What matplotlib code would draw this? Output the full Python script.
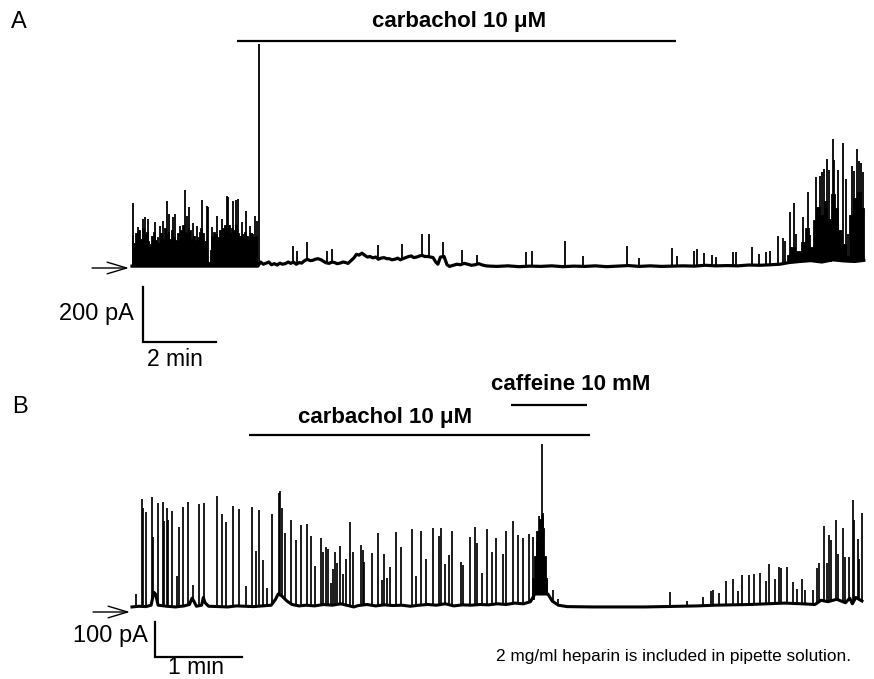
import numpy as np
import matplotlib
matplotlib.use("Agg")
import matplotlib.pyplot as plt

plt.rcParams['font.family'] = ['Liberation Sans', 'DejaVu Sans']

# ---------------- Panel A data (time in min, current in pA) ----------------
A_band_t = [0.0, 0.05, 0.1, 0.15, 0.2, 0.25, 0.3, 0.35, 0.4, 0.45, 0.5, 0.55, 0.6, 0.65, 0.7,
            0.75, 0.8, 0.85, 0.9, 0.95, 1.0, 1.05, 1.1, 1.15, 1.2, 1.25, 1.3, 1.35, 1.4, 1.45,
            1.5, 1.55, 1.6, 1.65, 1.7, 1.75, 1.8, 1.85, 1.9, 1.95, 2.0, 2.05, 2.1, 2.15, 2.2,
            2.25, 2.3, 2.35, 2.4, 2.45, 2.5, 2.55, 2.6, 2.65, 2.7, 2.75, 2.8, 2.85, 2.9, 2.95,
            3.0, 3.05, 3.1, 3.15, 3.2, 3.25, 3.3, 3.35, 3.42]
A_band_v = [110, 85, 120, 95, 130, 100, 140, 115, 125, 90, 80, 110, 125, 95, 105,
            85, 120, 100, 140, 115, 125, 100, 130, 105, 95, 120, 110, 130, 150, 125,
            120, 140, 130, 100, 110, 95, 105, 125, 140, 120, 90, 20, 15, 60, 110,
            125, 115, 105, 130, 120, 140, 150, 135, 150, 125, 140, 130, 150, 120, 110,
            95, 115, 125, 110, 100, 120, 115, 105, 110]

A_spike_t = [0.03, 0.16, 0.30, 0.36, 0.44, 0.63, 0.77, 0.85, 0.96, 1.01, 1.12, 1.18, 1.32, 1.45,
             1.51, 1.56, 1.67, 1.78, 1.92, 2.05, 2.08, 2.19, 2.33, 2.47, 2.60, 2.63, 2.77, 2.85,
             2.90, 3.01, 3.12, 3.23, 3.37, 3.42, 3.48,
             4.41, 4.52, 4.79, 5.34, 5.48, 6.74, 7.40, 7.95, 8.14, 8.52, 9.04, 9.45, 10.79,
             10.96, 11.86, 12.36, 13.56, 13.89, 14.79, 14.93, 15.40, 15.48, 15.67, 15.89, 16.00,
             16.47, 16.55, 16.99, 17.18, 17.37, 17.48, 17.70, 17.84, 17.89, 18.03, 18.14, 18.19,
             18.38, 18.52, 18.58, 18.74, 18.85, 18.90, 18.96, 19.04, 19.10, 19.21, 19.23, 19.34,
             19.48, 19.56, 19.62, 19.73, 19.78, 19.86, 19.92, 19.97, 20.03]
A_spike_v = [231, 144, 173, 180, 173, 162, 147, 165, 238, 191, 180, 191, 147, 278,
             184, 216, 155, 147, 242, 220, 216, 144, 184, 173, 256, 253, 235, 242,
             245, 162, 202, 147, 184, 165, 802,
             60, 45, 64, 45, 49, 49, 56, 78, 82, 53, 53, 35, 53,
             56, 93, 38, 71, 31, 67, 35, 56, 60, 45, 38, 31,
             49, 49, 67, 42, 49, 49, 104, 93, 82, 184, 213, 100,
             162, 249, 93, 307, 311, 329, 336, 369, 329, 438, 365, 329,
             427, 300, 100, 347, 329, 409, 362, 355, 322]

A_base_t = [0.0, 3.45, 3.52, 3.60, 3.68, 3.75, 3.82, 3.90, 3.98, 4.05, 4.12, 4.20, 4.28, 4.35,
            4.42, 4.50, 4.58, 4.65, 4.72, 4.80, 4.88, 4.95, 5.02, 5.10, 5.18, 5.25, 5.32, 5.40,
            5.48, 5.55, 5.62, 5.70, 5.78, 5.85, 5.92, 6.00, 6.08, 6.15, 6.22, 6.30, 6.38, 6.45,
            6.52, 6.60, 6.68, 6.75, 6.82, 6.90, 6.98, 7.05, 7.12, 7.20, 7.28, 7.35, 7.42, 7.50,
            7.58, 7.65, 7.72, 7.80, 7.88, 7.95, 8.02, 8.10, 8.18, 8.25, 8.32, 8.38, 8.45, 8.55,
            8.63, 8.70, 8.80, 8.90, 9.00, 9.10, 9.20, 9.30, 9.40, 9.50, 9.60, 9.70, 9.80, 10.0,
            10.3, 10.6, 10.9, 11.2, 11.5, 11.8, 12.1, 12.4, 12.7, 13.0, 13.3, 13.6, 13.9, 14.2,
            14.5, 14.8, 15.1, 15.4, 15.7, 16.0, 16.3, 16.6, 16.9, 17.2, 17.5, 17.75, 18.0, 18.3,
            18.6, 18.9, 19.2, 19.5, 19.8, 20.05]
A_base_v = [5, 5, 20, 12, 16, 20, 10, 14, 9, 16, 12, 14, 20, 15,
            20, 12, 18, 16, 24, 30, 25, 26, 30, 32, 28, 22, 17, 15,
            20, 18, 14, 16, 20, 18, 15, 25, 35, 48, 45, 52, 44, 38,
            40, 35, 38, 30, 34, 36, 32, 32, 28, 30, 34, 28, 32, 36,
            40, 42, 36, 38, 42, 44, 40, 40, 38, 36, 20, 12, 38, 40,
            10, 4, 8, 12, 10, 15, 12, 8, 10, 14, 9, 6, 5, 4,
            6, 3, 5, 4, 6, 3, 5, 4, 6, 3, 5, 7, 4, 6,
            4, 5, 6, 5, 8, 6, 7, 6, 9, 8, 10, 12, 18, 22,
            25, 20, 28, 24, 22, 26]

A_burst_t = [17.95, 18.1, 18.25, 18.4, 18.5, 18.6, 18.7, 18.8, 18.9, 19.0, 19.1, 19.2, 19.3,
             19.4, 19.5, 19.6, 19.7, 19.8, 19.9, 20.05]
A_burst_v = [30, 55, 40, 70, 120, 50, 150, 200, 170, 220, 150, 240, 190, 110, 60, 20, 170, 230, 250, 190]

# ---------------- Panel B data ----------------
B_spike_t = [0.05, 0.11, 0.13, 0.16, 0.23, 0.24, 0.30, 0.36, 0.37, 0.40, 0.41, 0.46, 0.52, 0.54,
             0.59, 0.64, 0.70, 0.77, 0.83, 0.98, 1.03, 1.08, 1.16, 1.23, 1.31, 1.38, 1.43, 1.46,
             1.51, 1.55, 1.61, 1.69, 1.70, 1.72, 1.76, 1.83, 1.89, 1.94, 2.01, 2.06, 2.10, 2.17,
             2.20, 2.23, 2.25, 2.29, 2.31, 2.33, 2.36, 2.39, 2.43, 2.46, 2.51, 2.54, 2.63, 2.66,
             2.67, 2.76, 2.83, 2.87, 2.90, 2.93, 2.97, 3.03, 3.09, 3.22, 3.26, 3.32, 3.38, 3.46,
             3.53, 3.55, 3.60, 3.64, 3.68, 3.78, 3.80, 3.89, 3.94, 3.97, 4.02, 4.08, 4.14, 4.18,
             4.26, 4.30, 4.38, 4.44, 4.49, 4.56, 4.61, 4.66, 4.68, 4.71, 4.72, 4.77, 4.84, 4.90,
             6.18, 6.38, 6.56, 6.66, 6.68, 6.75, 6.83, 6.91, 6.97, 7.01, 7.09, 7.15, 7.22, 7.29,
             7.32, 7.39, 7.44, 7.46, 7.53, 7.60, 7.64, 7.70, 7.74, 7.83, 7.87, 7.90, 7.95, 7.99,
             8.01, 8.03, 8.09, 8.11, 8.17, 8.20, 8.24, 8.29, 8.30, 8.34, 8.36, 8.39]
B_spike_v = [37, 306, 280, 271, 297, 171, 291, 297, 243, 280, 246, 274, 89, 226,
             283, 294, 43, 291, 277, 317, 266, 243, 286, 277, 57, 283, 157, 274,
             131, 51, 257, 291, 297, 251, 189, 240, 186, 231, 231, 200, 114, 191,
             149, 166, 160, 63, 103, 151, 117, 166, 86, 131, 240, 157, 171, 157,
             123, 149, 206, 71, 146, 77, 109, 211, 166, 220, 86, 211, 131, 220,
             197, 220, 114, 143, 214, 123, 114, 194, 223, 177, 91, 217, 151, 189,
             143, 211, 234, 194, 189, 194, 171, 151, 223, 429, 231, 46, 34, 17,
             40, 14, 26, 40, 43, 34, 69, 74, 40, 86, 83, 86, 89, 66,
             114, 69, 103, 100, 103, 60, 43, 71, 40, 40, 100, 111, 214, 111,
             191, 174, 226, 131, 211, 131, 120, 291, 229, 171, 117, 251]

B_base_t = [0.0, 0.08, 0.16, 0.22, 0.25, 0.27, 0.30, 0.40, 0.50, 0.60, 0.66, 0.69, 0.71, 0.74,
            0.80, 0.82, 0.84, 0.88, 1.00, 1.10, 1.20, 1.30, 1.40, 1.50, 1.60, 1.65, 1.68, 1.72,
            1.78, 1.84, 1.92, 2.00, 2.10, 2.20, 2.30, 2.40, 2.50, 2.55, 2.60, 2.70, 2.80, 2.90,
            3.00, 3.10, 3.20, 3.30, 3.40, 3.50, 3.60, 3.70, 3.80, 3.90, 4.00, 4.10, 4.20, 4.30,
            4.40, 4.50, 4.58, 4.63, 4.78, 4.83, 4.90, 5.00, 5.30, 5.60, 5.90, 6.10, 6.30, 6.50,
            6.70, 6.90, 7.10, 7.30, 7.50, 7.70, 7.85, 7.92, 8.00, 8.10, 8.20, 8.25, 8.28, 8.32,
            8.39]
B_base_v = [3, 5, 4, 8, 45, 40, 8, 5, 3, 6, 10, 28, 20, 5,
            8, 30, 15, 5, 4, 3, 6, 5, 4, 6, 8, 25, 40, 35,
            20, 10, 6, 8, 6, 10, 8, 12, 6, 3, 7, 10, 6, 9,
            7, 8, 5, 8, 10, 8, 12, 6, 9, 8, 10, 9, 12, 10,
            14, 12, 18, 40, 40, 20, 8, 4, 3, 3, 3, 4, 5, 6,
            8, 9, 10, 12, 14, 12, 10, 22, 18, 25, 15, 28, 12, 30,
            20]

B_burst_t = [4.60, 4.63, 4.66, 4.69, 4.71, 4.73, 4.75, 4.77]
B_burst_v = [60, 110, 180, 215, 225, 190, 110, 40]

# ---------------- layout constants (pixels) ----------------
W, H = 874, 679
fig = plt.figure(figsize=(W / 100, H / 100), dpi=100)

A_px_min, A_px_pA, A_x0, A_y0 = 36.5, 0.275, 132, 267.5
B_px_min, B_px_pA, B_x0, B_y0 = 87.0, 0.35, 132, 608
A_top, A_bot = 0, 370
B_top, B_bot = 370, 679

axA = fig.add_axes([0, 1 - A_bot / H, 1, (A_bot - A_top) / H])
axB = fig.add_axes([0, 1 - B_bot / H, 1, (B_bot - B_top) / H])
axA.set_xlim(-A_x0 / A_px_min, (W - A_x0) / A_px_min)
axA.set_ylim((A_y0 - A_bot) / A_px_pA, (A_y0 - A_top) / A_px_pA)
axB.set_xlim(-B_x0 / B_px_min, (W - B_x0) / B_px_min)
axB.set_ylim((B_y0 - B_bot) / B_px_pA, (B_y0 - B_top) / B_px_pA)
for ax in (axA, axB):
    ax.axis('off')
    ax.patch.set_alpha(0)


def draw_trace(ax, bt, bv, st, sv, ut, uv, lw_base, lw_spike):
    bt = np.asarray(bt); bv = np.asarray(bv)
    if lw_base > 0:
        ax.plot(bt, bv, color='black', lw=lw_base, solid_joinstyle='round')
    if len(ut):
        ub = np.interp(ut, bt, bv)
        ax.fill_between(ut, ub, ub + np.asarray(uv), color='black', lw=0.6, step='mid')
    if len(st):
        sb = np.interp(st, bt, bv)
        ax.vlines(st, sb, sb + np.asarray(sv), color='black', lw=lw_spike)


draw_trace(axA, A_base_t, A_base_v, A_spike_t, A_spike_v, A_band_t, A_band_v, 2.3, 1.3)
draw_trace(axA, A_base_t, A_base_v, [], [], A_burst_t, A_burst_v, 0, 1.3)
draw_trace(axB, B_base_t, B_base_v, B_spike_t, B_spike_v, B_burst_t, B_burst_v, 2.2, 1.25)

# drug application bars
axA.plot([2.88, 14.90], [824, 824], color='black', lw=1.6, solid_capstyle='butt')
axB.plot([1.34, 5.26], [494, 494], color='black', lw=1.6, solid_capstyle='butt')
axB.plot([4.36, 5.23], [580, 580], color='black', lw=1.6, solid_capstyle='butt')

# scale bars
axA.plot([0.30, 0.30, 2.30], [-71, -271, -271], color='black', lw=1.6, solid_joinstyle='miter')
axB.plot([0.264, 0.264, 1.264], [-40, -140, -140], color='black', lw=1.6, solid_joinstyle='miter')


def ftext(x, y, s, **kw):
    fig.text(x / W, 1 - y / H, s, **kw)


ftext(19, 22, 'A', fontsize=17, ha='center', va='center')
ftext(20, 407, 'B', fontsize=17, ha='center', va='center')
ftext(459, 22, 'carbachol 10 \u03bcM', fontsize=16, fontweight='bold', ha='center', va='center')
ftext(385, 418, 'carbachol 10 \u03bcM', fontsize=16, fontweight='bold', ha='center', va='center')
ftext(571, 384, 'caffeine 10 mM', fontsize=16, fontweight='bold', ha='center', va='center')
ftext(96, 314, '200 pA', fontsize=17, ha='center', va='center')
ftext(175, 360, '2 min', fontsize=16.5, ha='center', va='center')
ftext(110, 636, '100 pA', fontsize=17, ha='center', va='center')
ftext(196, 668, '1 min', fontsize=16.5, ha='center', va='center')
ftext(673, 656, '2 mg/ml heparin is included in pipette solution.', fontsize=12.4,
      ha='center', va='center')

# baseline arrows
for (x0, x1, y) in [(92, 129, 268), (93, 130, 612)]:
    axA.annotate('', xy=(x1, H - y), xytext=(x0, H - y), xycoords='figure pixels',
                 textcoords='figure pixels',
                 arrowprops=dict(arrowstyle='->,head_length=1.4,head_width=0.42',
                                 lw=1.0, color='black', mutation_scale=10,
                                 shrinkA=0, shrinkB=0))

fig.savefig('out.png', dpi=100, facecolor='white')
